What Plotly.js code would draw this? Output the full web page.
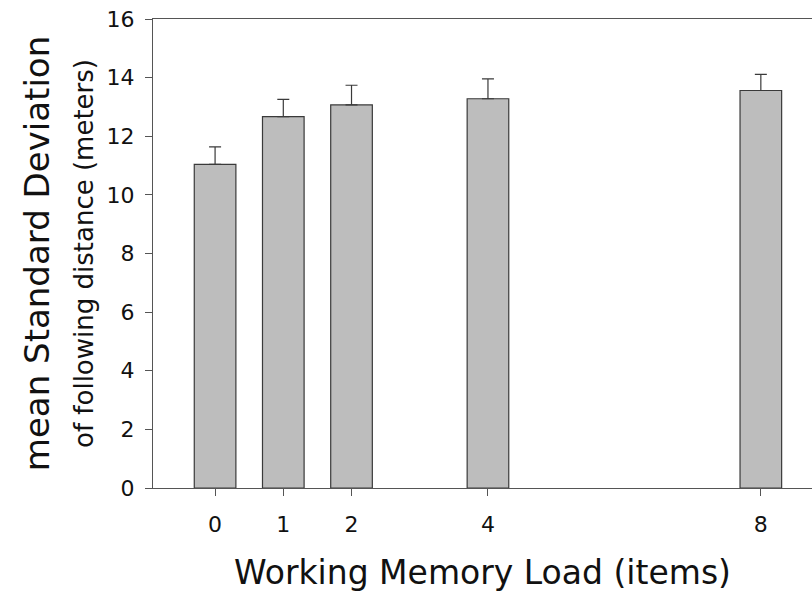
<!DOCTYPE html>
<html>
<head>
<meta charset="utf-8">
<script src="https://cdn.plot.ly/plotly-3.0.1.min.js"></script>
<style>html,body{margin:0;padding:0;background:#fff;}#chart{width:812px;height:596px;}</style>
</head>
<body>
<div id="chart"></div>
<script>
const loads = [0, 1, 2, 4, 8];
const meanSD = [11.04, 12.67, 13.07, 13.28, 13.56];
const errUp = [0.60, 0.59, 0.67, 0.68, 0.55];
const yTicks = [0, 2, 4, 6, 8, 10, 12, 14, 16];

const trace = {
  type: 'bar',
  x: loads,
  y: meanSD,
  width: 0.61,
  marker: {color: '#bdbdbd', line: {color: '#3a3a3a', width: 1.2}},
  error_y: {type: 'data', symmetric: false, array: errUp, arrayminus: loads.map(() => 0),
            color: '#3a3a3a', thickness: 1.2, width: 6}
};

const layout = {
  width: 812, height: 596,
  margin: {l: 153, r: 0, t: 19, b: 108},
  paper_bgcolor: '#fff', plot_bgcolor: '#fff',
  font: {family: 'DejaVu Sans, sans-serif', color: '#111'},
  showlegend: false,
  bargap: 0,
  xaxis: {
    range: [-0.91, 8.75], tickvals: loads, ticktext: loads.map(String),
    showgrid: false, zeroline: false, showline: true, mirror: true,
    linecolor: '#555', linewidth: 1.2,
    ticks: 'outside', ticklen: 7, tickcolor: '#555', tickwidth: 1,
    tickfont: {size: 22, color: '#111'}, ticklabelstandoff: 9,
    title: {text: 'Working Memory Load (items)', font: {size: 33, color: '#111'}, standoff: 25}
  },
  yaxis: {
    range: [0, 16], tickvals: yTicks, ticktext: yTicks.map(String),
    showgrid: false, zeroline: false, showline: true, mirror: false,
    linecolor: '#555', linewidth: 1.2,
    ticks: 'outside', ticklen: 7, tickcolor: '#555', tickwidth: 1,
    tickfont: {size: 22, color: '#111'}, ticklabelstandoff: 6,
    title: {text: 'mean Standard Deviation<br><span style="font-size:26px">of following distance (meters)</span>',
            font: {size: 34, color: '#111'}, standoff: 2}
  }
};

Plotly.newPlot('chart', [trace], layout, {displayModeBar: false, staticPlot: true});
</script>
</body>
</html>
